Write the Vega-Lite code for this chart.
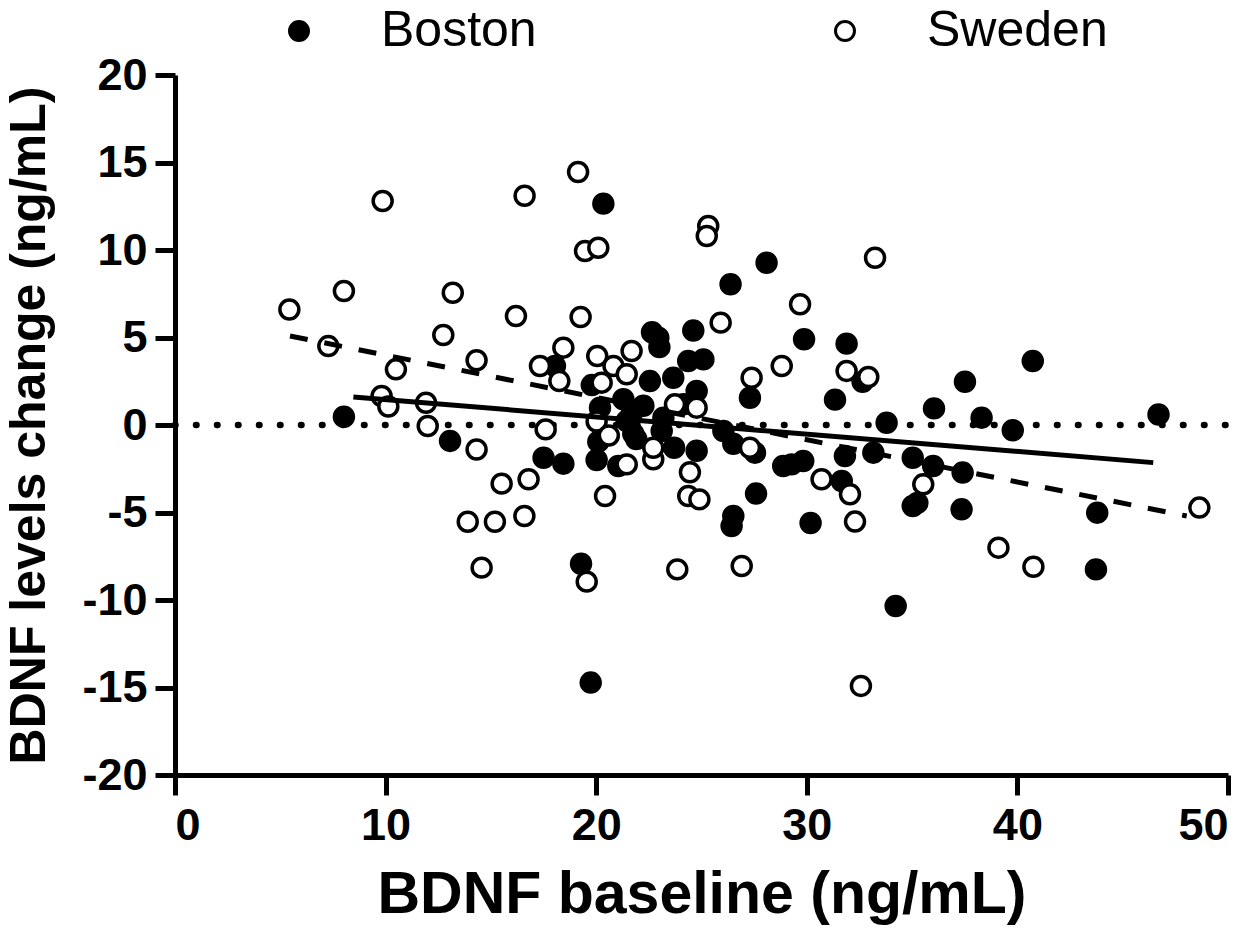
{
  "$schema": "https://vega.github.io/schema/vega-lite/v6.json",
  "width": 1053,
  "height": 700,
  "autosize": "none",
  "padding": {"left": 175, "top": 75, "right": 32, "bottom": 167},
  "background": "white",
  "config": {
    "view": {"stroke": null},
    "font": "Liberation Sans",
    "axis": {
      "grid": false,
      "domainColor": "black",
      "domainWidth": 5,
      "tickColor": "black",
      "tickWidth": 5,
      "tickSize": 20,
      "labelColor": "black",
      "labelFont": "Liberation Sans",
      "labelFontSize": 45,
      "labelFontWeight": "bold",
      "titleFont": "Liberation Sans",
      "titleFontWeight": "bold",
      "titleColor": "black"
    }
  },
  "datasets": {
    "pts": [
      {"x": 8.02, "y": 0.47, "g": "Boston"},
      {"x": 13.06, "y": -0.91, "g": "Boston"},
      {"x": 17.5, "y": -1.87, "g": "Boston"},
      {"x": 18.44, "y": -2.21, "g": "Boston"},
      {"x": 18.04, "y": 3.37, "g": "Boston"},
      {"x": 19.28, "y": -7.93, "g": "Boston"},
      {"x": 19.74, "y": -14.72, "g": "Boston"},
      {"x": 20.34, "y": 12.65, "g": "Boston"},
      {"x": 20.02, "y": -2.0, "g": "Boston"},
      {"x": 20.1, "y": -0.95, "g": "Boston"},
      {"x": 21.05, "y": -2.34, "g": "Boston"},
      {"x": 23.7, "y": -1.3, "g": "Boston"},
      {"x": 24.77, "y": -1.47, "g": "Boston"},
      {"x": 26.51, "y": -1.07, "g": "Boston"},
      {"x": 27.54, "y": -1.58, "g": "Boston"},
      {"x": 21.76, "y": -0.5, "g": "Boston"},
      {"x": 23.11, "y": -0.34, "g": "Boston"},
      {"x": 21.9, "y": -0.8, "g": "Boston"},
      {"x": 26.51, "y": -5.2, "g": "Boston"},
      {"x": 26.43, "y": -5.77, "g": "Boston"},
      {"x": 27.59, "y": -3.92, "g": "Boston"},
      {"x": 22.65, "y": 5.3, "g": "Boston"},
      {"x": 22.95, "y": 4.99, "g": "Boston"},
      {"x": 23.0, "y": 4.45, "g": "Boston"},
      {"x": 24.61, "y": 5.4, "g": "Boston"},
      {"x": 24.37, "y": 3.66, "g": "Boston"},
      {"x": 25.09, "y": 3.75, "g": "Boston"},
      {"x": 22.55, "y": 2.51, "g": "Boston"},
      {"x": 23.66, "y": 2.7, "g": "Boston"},
      {"x": 19.79, "y": 2.28, "g": "Boston"},
      {"x": 24.77, "y": 1.94, "g": "Boston"},
      {"x": 24.14, "y": 1.18, "g": "Boston"},
      {"x": 20.18, "y": 0.99, "g": "Boston"},
      {"x": 21.29, "y": 1.47, "g": "Boston"},
      {"x": 22.24, "y": 1.1, "g": "Boston"},
      {"x": 21.68, "y": 0.61, "g": "Boston"},
      {"x": 23.19, "y": 0.42, "g": "Boston"},
      {"x": 21.45, "y": 0.23, "g": "Boston"},
      {"x": 26.04, "y": -0.34, "g": "Boston"},
      {"x": 28.09, "y": 9.27, "g": "Boston"},
      {"x": 26.38, "y": 8.04, "g": "Boston"},
      {"x": 27.3, "y": 1.56, "g": "Boston"},
      {"x": 29.87, "y": 4.9, "g": "Boston"},
      {"x": 31.89, "y": 4.65, "g": "Boston"},
      {"x": 31.34, "y": 1.45, "g": "Boston"},
      {"x": 32.65, "y": 2.47, "g": "Boston"},
      {"x": 40.73, "y": 3.66, "g": "Boston"},
      {"x": 37.51, "y": 2.47, "g": "Boston"},
      {"x": 36.04, "y": 0.95, "g": "Boston"},
      {"x": 38.3, "y": 0.42, "g": "Boston"},
      {"x": 33.79, "y": 0.13, "g": "Boston"},
      {"x": 39.78, "y": -0.3, "g": "Boston"},
      {"x": 28.88, "y": -2.34, "g": "Boston"},
      {"x": 29.28, "y": -2.25, "g": "Boston"},
      {"x": 29.83, "y": -2.06, "g": "Boston"},
      {"x": 31.81, "y": -1.77, "g": "Boston"},
      {"x": 33.16, "y": -1.58, "g": "Boston"},
      {"x": 35.03, "y": -1.87, "g": "Boston"},
      {"x": 36.0, "y": -2.34, "g": "Boston"},
      {"x": 37.4, "y": -2.72, "g": "Boston"},
      {"x": 31.66, "y": -3.2, "g": "Boston"},
      {"x": 35.03, "y": -4.63, "g": "Boston"},
      {"x": 35.25, "y": -4.45, "g": "Boston"},
      {"x": 37.35, "y": -4.82, "g": "Boston"},
      {"x": 30.18, "y": -5.6, "g": "Boston"},
      {"x": 43.79, "y": -5.01, "g": "Boston"},
      {"x": 43.73, "y": -8.25, "g": "Boston"},
      {"x": 34.22, "y": -10.34, "g": "Boston"},
      {"x": 46.7, "y": 0.6, "g": "Boston"},
      {"x": 5.43, "y": 6.6, "g": "Sweden"},
      {"x": 7.28, "y": 4.51, "g": "Sweden"},
      {"x": 8.02, "y": 7.66, "g": "Sweden"},
      {"x": 9.86, "y": 12.8, "g": "Sweden"},
      {"x": 9.81, "y": 1.66, "g": "Sweden"},
      {"x": 10.13, "y": 1.06, "g": "Sweden"},
      {"x": 10.49, "y": 3.18, "g": "Sweden"},
      {"x": 11.92, "y": 1.27, "g": "Sweden"},
      {"x": 12.0, "y": -0.06, "g": "Sweden"},
      {"x": 12.74, "y": 5.14, "g": "Sweden"},
      {"x": 13.19, "y": 7.56, "g": "Sweden"},
      {"x": 14.32, "y": -1.4, "g": "Sweden"},
      {"x": 13.9, "y": -5.53, "g": "Sweden"},
      {"x": 14.32, "y": 3.7, "g": "Sweden"},
      {"x": 14.56, "y": -8.15, "g": "Sweden"},
      {"x": 15.19, "y": -5.53, "g": "Sweden"},
      {"x": 15.51, "y": -3.35, "g": "Sweden"},
      {"x": 16.19, "y": 6.23, "g": "Sweden"},
      {"x": 16.6, "y": 13.1, "g": "Sweden"},
      {"x": 16.59, "y": -5.2, "g": "Sweden"},
      {"x": 16.79, "y": -3.1, "g": "Sweden"},
      {"x": 17.33, "y": 3.37, "g": "Sweden"},
      {"x": 17.6, "y": -0.25, "g": "Sweden"},
      {"x": 18.44, "y": 4.42, "g": "Sweden"},
      {"x": 18.25, "y": 2.51, "g": "Sweden"},
      {"x": 19.14, "y": 14.46, "g": "Sweden"},
      {"x": 19.47, "y": 9.94, "g": "Sweden"},
      {"x": 20.1, "y": 10.13, "g": "Sweden"},
      {"x": 19.26, "y": 6.17, "g": "Sweden"},
      {"x": 19.55, "y": -8.95, "g": "Sweden"},
      {"x": 20.05, "y": 3.94, "g": "Sweden"},
      {"x": 20.02, "y": 0.2, "g": "Sweden"},
      {"x": 20.42, "y": -4.06, "g": "Sweden"},
      {"x": 20.82, "y": 3.37, "g": "Sweden"},
      {"x": 21.45, "y": 2.9, "g": "Sweden"},
      {"x": 21.68, "y": 4.23, "g": "Sweden"},
      {"x": 20.26, "y": 2.42, "g": "Sweden"},
      {"x": 21.45, "y": -2.25, "g": "Sweden"},
      {"x": 22.71, "y": -1.96, "g": "Sweden"},
      {"x": 22.71, "y": -1.3, "g": "Sweden"},
      {"x": 23.74, "y": 1.18, "g": "Sweden"},
      {"x": 24.77, "y": 0.99, "g": "Sweden"},
      {"x": 23.85, "y": -8.25, "g": "Sweden"},
      {"x": 24.45, "y": -2.7, "g": "Sweden"},
      {"x": 24.37, "y": -4.06, "g": "Sweden"},
      {"x": 24.9, "y": -4.25, "g": "Sweden"},
      {"x": 25.32, "y": 11.37, "g": "Sweden"},
      {"x": 25.25, "y": 10.8, "g": "Sweden"},
      {"x": 25.91, "y": 5.85, "g": "Sweden"},
      {"x": 26.91, "y": -8.06, "g": "Sweden"},
      {"x": 27.38, "y": 2.7, "g": "Sweden"},
      {"x": 27.3, "y": -1.3, "g": "Sweden"},
      {"x": 29.68, "y": 6.9, "g": "Sweden"},
      {"x": 28.81, "y": 3.37, "g": "Sweden"},
      {"x": 31.89, "y": 3.09, "g": "Sweden"},
      {"x": 32.92, "y": 2.74, "g": "Sweden"},
      {"x": 33.24, "y": 9.56, "g": "Sweden"},
      {"x": 30.7, "y": -3.1, "g": "Sweden"},
      {"x": 32.05, "y": -3.96, "g": "Sweden"},
      {"x": 32.29, "y": -5.52, "g": "Sweden"},
      {"x": 35.53, "y": -3.39, "g": "Sweden"},
      {"x": 39.1, "y": -7.01, "g": "Sweden"},
      {"x": 40.76, "y": -8.1, "g": "Sweden"},
      {"x": 48.64, "y": -4.72, "g": "Sweden"},
      {"x": 32.57, "y": -14.91, "g": "Sweden"},
      {"x": 20.6, "y": -0.6, "g": "Sweden"}
    ],
    "lines": [
      {"x": 0, "y": 0, "s": "zero"},
      {"x": 50, "y": 0, "s": "zero"},
      {"x": 8.47, "y": 1.6, "s": "Boston"},
      {"x": 46.45, "y": -2.15, "s": "Boston"},
      {"x": 5.46, "y": 5.09, "s": "Sweden"},
      {"x": 48.04, "y": -5.2, "s": "Sweden"}
    ]
  },
  "layer": [
    {
      "data": {"name": "lines"},
      "transform": [{"filter": "datum.s === 'zero'"}],
      "mark": {"type": "line", "color": "black", "strokeWidth": 6.5, "strokeCap": "round", "strokeDash": [0.5, 20.5]},
      "encoding": {
        "x": {"field": "x", "type": "quantitative", "scale": {"domain": [0, 50]}},
        "y": {"field": "y", "type": "quantitative", "scale": {"domain": [-20, 20]}}
      }
    },
    {
      "data": {"name": "pts"},
      "mark": {"type": "point", "shape": "circle", "filled": true, "size": 360, "stroke": "black", "strokeWidth": 3.5, "opacity": 1, "fillOpacity": 1},
      "encoding": {
        "x": {"field": "x", "type": "quantitative", "scale": {"domain": [0, 50]},
              "axis": {"values": [0, 10, 20, 30, 40, 50], "title": "BDNF baseline (ng/mL)", "labelPadding": 8, "titlePadding": 17, "titleFontSize": 59}},
        "y": {"field": "y", "type": "quantitative", "scale": {"domain": [-20, 20]},
              "axis": {"values": [-20, -15, -10, -5, 0, 5, 10, 15, 20], "labelExpr": "datum.value + ''", "title": "BDNF levels change (ng/mL)", "labelPadding": 8, "titlePadding": 27, "titleFontSize": 50}},
        "fill": {"field": "g", "type": "nominal",
                 "scale": {"domain": ["Boston", "Sweden"], "range": ["black", "white"]},
                 "legend": {"title": null, "orient": "none", "legendX": 99, "legendY": -69, "direction": "horizontal",
                            "labelFont": "Liberation Sans", "labelFontSize": 50, "labelColor": "black", "labelLimit": 500,
                            "symbolType": "circle", "symbolSize": 360, "symbolStrokeColor": "black", "symbolStrokeWidth": 3,
                            "labelOffset": 57, "columnPadding": 283, "padding": 0}}
      }
    },
    {
      "data": {"name": "lines"},
      "transform": [{"filter": "datum.s === 'Boston'"}],
      "mark": {"type": "line", "color": "black", "strokeWidth": 5},
      "encoding": {
        "x": {"field": "x", "type": "quantitative"},
        "y": {"field": "y", "type": "quantitative"}
      }
    },
    {
      "data": {"name": "lines"},
      "transform": [{"filter": "datum.s === 'Sweden'"}],
      "mark": {"type": "line", "color": "black", "strokeWidth": 5, "strokeDash": [18, 17]},
      "encoding": {
        "x": {"field": "x", "type": "quantitative"},
        "y": {"field": "y", "type": "quantitative"}
      }
    }
  ]
}
